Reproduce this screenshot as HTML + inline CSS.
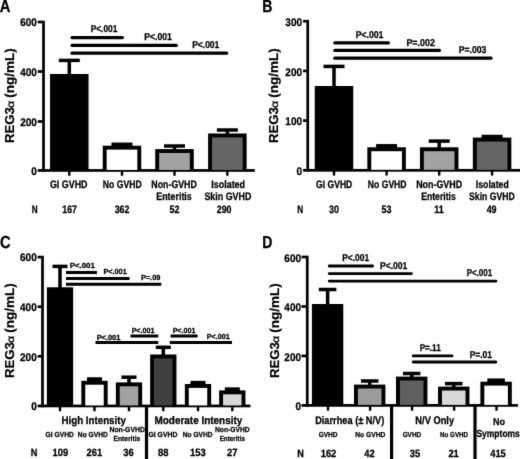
<!DOCTYPE html>
<html lang="en">
<head>
<meta charset="utf-8">
<title>REG3α figure</title>
<style>
html,body{margin:0;padding:0;background:#fff;}
body{width:520px;height:459px;overflow:hidden;}
svg{display:block;}
svg text{font-family:'Liberation Sans', 'DejaVu Sans', sans-serif;text-rendering:geometricPrecision;}
</style>
</head>
<body>
<svg width="520" height="459" viewBox="0 0 520 459">
<defs><filter id="soft" color-interpolation-filters="sRGB" x="0" y="0" width="520" height="459" filterUnits="userSpaceOnUse"><feConvolveMatrix order="3" kernelMatrix="0.012 0.07 0.012 0.07 0.672 0.07 0.012 0.07 0.012" edgeMode="duplicate" preserveAlpha="true"/></filter></defs>
<rect x="0" y="0" width="520" height="459" fill="#fff"/>
<g filter="url(#soft)">
<rect x="0" y="0" width="520" height="459" fill="#fff"/>
<!-- Panel A -->
<text x="-0.30" y="12.40" font-size="17.4" font-weight="bold" fill="#000" stroke="#000" stroke-width="0.28" textLength="10.70" lengthAdjust="spacingAndGlyphs">A</text>
<g transform="translate(13.70,142.20) rotate(-90)"><text x="-0.85" y="0" font-weight="bold" font-size="13" stroke="#000" stroke-width="0.2" lengthAdjust="spacingAndGlyphs" textLength="35.9">REG3</text><text transform="translate(34.5,0) scale(1.17,1)" x="0" y="0" font-weight="normal" stroke="#000" stroke-width="0.3" font-family="'DejaVu Sans', 'Liberation Sans', sans-serif" font-size="10.2">α</text><text x="44.5" y="0" font-weight="bold" font-size="13" stroke="#000" stroke-width="0.2" lengthAdjust="spacingAndGlyphs" textLength="49.5">(ng/mL)</text></g>
<rect x="42.15" y="20.65" width="2.70" height="151.15" fill="#000"/>
<rect x="42.15" y="169.10" width="212.65" height="2.70" fill="#000"/>
<rect x="37.75" y="20.65" width="4.60" height="2.70" fill="#000"/>
<text x="20.25" y="26.30" font-size="11" font-weight="bold" fill="#000" stroke="#000" stroke-width="0.28" textLength="16.65" lengthAdjust="spacingAndGlyphs">600</text>
<rect x="37.75" y="70.15" width="4.60" height="2.70" fill="#000"/>
<text x="20.25" y="76.10" font-size="11" font-weight="bold" fill="#000" stroke="#000" stroke-width="0.28" textLength="16.65" lengthAdjust="spacingAndGlyphs">400</text>
<rect x="37.75" y="120.15" width="4.60" height="2.70" fill="#000"/>
<text x="20.25" y="126.00" font-size="11" font-weight="bold" fill="#000" stroke="#000" stroke-width="0.28" textLength="16.65" lengthAdjust="spacingAndGlyphs">200</text>
<rect x="37.75" y="169.10" width="4.60" height="2.70" fill="#000"/>
<text x="31.35" y="175.00" font-size="11" font-weight="bold" fill="#000" stroke="#000" stroke-width="0.28" textLength="5.55" lengthAdjust="spacingAndGlyphs">0</text>
<rect x="68.10" y="170.45" width="2.40" height="5.30" fill="#000"/>
<rect x="120.80" y="170.45" width="2.40" height="5.30" fill="#000"/>
<rect x="173.30" y="170.45" width="2.40" height="5.30" fill="#000"/>
<rect x="226.15" y="170.45" width="2.40" height="5.30" fill="#000"/>
<rect x="50.05" y="74.00" width="38.50" height="96.45" fill="#000"/>
<rect x="67.55" y="60.40" width="3.50" height="14.60" fill="#000"/>
<rect x="58.80" y="58.65" width="21.00" height="3.50" fill="#000"/>
<rect x="102.75" y="145.70" width="38.50" height="24.75" fill="#000"/>
<rect x="106.65" y="149.60" width="30.70" height="20.35" fill="#fff"/>
<rect x="120.25" y="144.30" width="3.50" height="2.40" fill="#000"/>
<rect x="111.50" y="142.55" width="21.00" height="3.75" fill="#000"/>
<rect x="155.25" y="149.10" width="38.50" height="21.35" fill="#000"/>
<rect x="159.15" y="153.00" width="30.70" height="16.95" fill="#a2a2a2"/>
<rect x="172.75" y="146.00" width="3.50" height="4.10" fill="#000"/>
<rect x="164.00" y="144.25" width="21.00" height="3.50" fill="#000"/>
<rect x="208.10" y="133.50" width="38.50" height="36.95" fill="#000"/>
<rect x="212.00" y="137.40" width="30.70" height="32.55" fill="#656565"/>
<rect x="225.60" y="130.00" width="3.50" height="4.50" fill="#000"/>
<rect x="216.85" y="128.25" width="21.00" height="3.50" fill="#000"/>
<line x1="72.00" y1="37.60" x2="122.40" y2="37.60" stroke="#000" stroke-width="3.2" stroke-linecap="round"/>
<line x1="72.00" y1="45.40" x2="176.40" y2="45.40" stroke="#000" stroke-width="3.2" stroke-linecap="round"/>
<line x1="72.00" y1="53.20" x2="226.70" y2="53.20" stroke="#000" stroke-width="3.2" stroke-linecap="round"/>
<text x="90.65" y="32.20" font-size="10" font-weight="bold" fill="#000" stroke="#000" stroke-width="0.28" textLength="26.70" lengthAdjust="spacingAndGlyphs">P&lt;.001</text>
<text x="144.15" y="40.00" font-size="10" font-weight="bold" fill="#000" stroke="#000" stroke-width="0.28" textLength="27.70" lengthAdjust="spacingAndGlyphs">P&lt;.001</text>
<text x="192.15" y="48.20" font-size="10" font-weight="bold" fill="#000" stroke="#000" stroke-width="0.28" textLength="27.20" lengthAdjust="spacingAndGlyphs">P&lt;.001</text>
<text x="49.95" y="188.10" font-size="10.8" font-weight="bold" fill="#000" stroke="#000" stroke-width="0.28" textLength="37.60" lengthAdjust="spacingAndGlyphs">GI GVHD</text>
<text x="102.85" y="188.10" font-size="10.8" font-weight="bold" fill="#000" stroke="#000" stroke-width="0.28" textLength="38.90" lengthAdjust="spacingAndGlyphs">No GVHD</text>
<text x="151.35" y="188.10" font-size="10.8" font-weight="bold" fill="#000" stroke="#000" stroke-width="0.28" textLength="45.50" lengthAdjust="spacingAndGlyphs">Non-GVHD</text>
<text x="156.25" y="200.30" font-size="10.8" font-weight="bold" fill="#000" stroke="#000" stroke-width="0.28" textLength="35.50" lengthAdjust="spacingAndGlyphs">Enteritis</text>
<text x="211.25" y="188.10" font-size="10.8" font-weight="bold" fill="#000" stroke="#000" stroke-width="0.28" textLength="33.80" lengthAdjust="spacingAndGlyphs">Isolated</text>
<text x="204.45" y="200.30" font-size="10.8" font-weight="bold" fill="#000" stroke="#000" stroke-width="0.28" textLength="46.90" lengthAdjust="spacingAndGlyphs">Skin GVHD</text>
<text x="31.80" y="212.90" font-size="10.8" font-weight="bold" fill="#000" stroke="#000" stroke-width="0.28" textLength="5.90" lengthAdjust="spacingAndGlyphs">N</text>
<text x="62.25" y="212.90" font-size="10.8" font-weight="bold" fill="#000" stroke="#000" stroke-width="0.28" textLength="14.70" lengthAdjust="spacingAndGlyphs">167</text>
<text x="114.65" y="212.90" font-size="10.8" font-weight="bold" fill="#000" stroke="#000" stroke-width="0.28" textLength="14.70" lengthAdjust="spacingAndGlyphs">362</text>
<text x="169.55" y="212.90" font-size="10.8" font-weight="bold" fill="#000" stroke="#000" stroke-width="0.28" textLength="9.90" lengthAdjust="spacingAndGlyphs">52</text>
<text x="216.75" y="212.90" font-size="10.8" font-weight="bold" fill="#000" stroke="#000" stroke-width="0.28" textLength="14.70" lengthAdjust="spacingAndGlyphs">290</text>
<!-- Panel B -->
<text x="262.30" y="12.40" font-size="17.4" font-weight="bold" fill="#000" stroke="#000" stroke-width="0.28" textLength="10.20" lengthAdjust="spacingAndGlyphs">B</text>
<g transform="translate(278.20,142.20) rotate(-90)"><text x="-0.85" y="0" font-weight="bold" font-size="13" stroke="#000" stroke-width="0.2" lengthAdjust="spacingAndGlyphs" textLength="35.9">REG3</text><text transform="translate(34.5,0) scale(1.17,1)" x="0" y="0" font-weight="normal" stroke="#000" stroke-width="0.3" font-family="'DejaVu Sans', 'Liberation Sans', sans-serif" font-size="10.2">α</text><text x="44.5" y="0" font-weight="bold" font-size="13" stroke="#000" stroke-width="0.2" lengthAdjust="spacingAndGlyphs" textLength="49.5">(ng/mL)</text></g>
<rect x="306.40" y="19.85" width="2.70" height="151.80" fill="#000"/>
<rect x="306.40" y="168.95" width="213.60" height="2.70" fill="#000"/>
<rect x="303.10" y="19.85" width="3.50" height="2.70" fill="#000"/>
<text x="285.35" y="26.30" font-size="11" font-weight="bold" fill="#000" stroke="#000" stroke-width="0.28" textLength="16.65" lengthAdjust="spacingAndGlyphs">300</text>
<rect x="303.10" y="69.55" width="3.50" height="2.70" fill="#000"/>
<text x="285.35" y="75.70" font-size="11" font-weight="bold" fill="#000" stroke="#000" stroke-width="0.28" textLength="16.65" lengthAdjust="spacingAndGlyphs">200</text>
<rect x="303.10" y="119.25" width="3.50" height="2.70" fill="#000"/>
<text x="285.35" y="125.10" font-size="11" font-weight="bold" fill="#000" stroke="#000" stroke-width="0.28" textLength="16.65" lengthAdjust="spacingAndGlyphs">100</text>
<rect x="303.10" y="168.95" width="3.50" height="2.70" fill="#000"/>
<text x="296.45" y="174.50" font-size="11" font-weight="bold" fill="#000" stroke="#000" stroke-width="0.28" textLength="5.55" lengthAdjust="spacingAndGlyphs">0</text>
<rect x="332.80" y="170.30" width="2.40" height="5.30" fill="#000"/>
<rect x="385.40" y="170.30" width="2.40" height="5.30" fill="#000"/>
<rect x="438.00" y="170.30" width="2.40" height="5.30" fill="#000"/>
<rect x="490.90" y="170.30" width="2.40" height="5.30" fill="#000"/>
<rect x="314.75" y="86.00" width="38.50" height="84.30" fill="#000"/>
<rect x="332.25" y="66.40" width="3.50" height="20.60" fill="#000"/>
<rect x="323.50" y="64.65" width="21.00" height="3.50" fill="#000"/>
<rect x="367.35" y="147.30" width="38.50" height="23.00" fill="#000"/>
<rect x="371.25" y="151.20" width="30.70" height="18.60" fill="#fff"/>
<rect x="384.85" y="145.80" width="3.50" height="2.50" fill="#000"/>
<rect x="376.10" y="144.05" width="21.00" height="3.85" fill="#000"/>
<rect x="419.95" y="147.30" width="38.50" height="23.00" fill="#000"/>
<rect x="423.85" y="151.20" width="30.70" height="18.60" fill="#a2a2a2"/>
<rect x="437.45" y="141.10" width="3.50" height="7.20" fill="#000"/>
<rect x="428.70" y="139.35" width="21.00" height="3.50" fill="#000"/>
<rect x="472.85" y="137.60" width="38.50" height="32.70" fill="#000"/>
<rect x="476.75" y="141.50" width="30.70" height="28.30" fill="#656565"/>
<rect x="490.35" y="136.50" width="3.50" height="2.10" fill="#000"/>
<rect x="481.60" y="134.75" width="21.00" height="3.45" fill="#000"/>
<line x1="334.80" y1="42.90" x2="388.40" y2="42.90" stroke="#000" stroke-width="3.2" stroke-linecap="round"/>
<line x1="334.80" y1="50.40" x2="439.40" y2="50.40" stroke="#000" stroke-width="3.2" stroke-linecap="round"/>
<line x1="334.80" y1="58.20" x2="491.00" y2="58.20" stroke="#000" stroke-width="3.2" stroke-linecap="round"/>
<text x="355.65" y="38.00" font-size="10" font-weight="bold" fill="#000" stroke="#000" stroke-width="0.28" textLength="27.70" lengthAdjust="spacingAndGlyphs">P&lt;.001</text>
<text x="406.45" y="45.80" font-size="10" font-weight="bold" fill="#000" stroke="#000" stroke-width="0.28" textLength="28.40" lengthAdjust="spacingAndGlyphs">P=.002</text>
<text x="458.65" y="53.40" font-size="10" font-weight="bold" fill="#000" stroke="#000" stroke-width="0.28" textLength="27.70" lengthAdjust="spacingAndGlyphs">P=.003</text>
<text x="315.95" y="188.10" font-size="10.8" font-weight="bold" fill="#000" stroke="#000" stroke-width="0.28" textLength="36.40" lengthAdjust="spacingAndGlyphs">GI GVHD</text>
<text x="367.85" y="188.10" font-size="10.8" font-weight="bold" fill="#000" stroke="#000" stroke-width="0.28" textLength="38.70" lengthAdjust="spacingAndGlyphs">No GVHD</text>
<text x="416.15" y="188.10" font-size="10.8" font-weight="bold" fill="#000" stroke="#000" stroke-width="0.28" textLength="46.00" lengthAdjust="spacingAndGlyphs">Non-GVHD</text>
<text x="421.15" y="200.30" font-size="10.8" font-weight="bold" fill="#000" stroke="#000" stroke-width="0.28" textLength="34.70" lengthAdjust="spacingAndGlyphs">Enteritis</text>
<text x="475.85" y="188.10" font-size="10.8" font-weight="bold" fill="#000" stroke="#000" stroke-width="0.28" textLength="32.90" lengthAdjust="spacingAndGlyphs">Isolated</text>
<text x="469.05" y="200.30" font-size="10.8" font-weight="bold" fill="#000" stroke="#000" stroke-width="0.28" textLength="45.80" lengthAdjust="spacingAndGlyphs">Skin GVHD</text>
<text x="297.20" y="212.90" font-size="10.8" font-weight="bold" fill="#000" stroke="#000" stroke-width="0.28" textLength="5.90" lengthAdjust="spacingAndGlyphs">N</text>
<text x="329.05" y="212.90" font-size="10.8" font-weight="bold" fill="#000" stroke="#000" stroke-width="0.28" textLength="9.90" lengthAdjust="spacingAndGlyphs">30</text>
<text x="381.45" y="212.90" font-size="10.8" font-weight="bold" fill="#000" stroke="#000" stroke-width="0.28" textLength="9.90" lengthAdjust="spacingAndGlyphs">53</text>
<text x="434.30" y="212.90" font-size="10.8" font-weight="bold" fill="#000" stroke="#000" stroke-width="0.28" textLength="9.40" lengthAdjust="spacingAndGlyphs">11</text>
<text x="486.65" y="212.90" font-size="10.8" font-weight="bold" fill="#000" stroke="#000" stroke-width="0.28" textLength="9.90" lengthAdjust="spacingAndGlyphs">49</text>
<!-- Panel C -->
<text x="0.00" y="248.10" font-size="17.4" font-weight="bold" fill="#000" stroke="#000" stroke-width="0.28" textLength="10.60" lengthAdjust="spacingAndGlyphs">C</text>
<g transform="translate(13.70,377.20) rotate(-90)"><text x="-0.85" y="0" font-weight="bold" font-size="13" stroke="#000" stroke-width="0.2" lengthAdjust="spacingAndGlyphs" textLength="35.9">REG3</text><text transform="translate(34.5,0) scale(1.17,1)" x="0" y="0" font-weight="normal" stroke="#000" stroke-width="0.3" font-family="'DejaVu Sans', 'Liberation Sans', sans-serif" font-size="10.2">α</text><text x="44.5" y="0" font-weight="bold" font-size="13" stroke="#000" stroke-width="0.2" lengthAdjust="spacingAndGlyphs" textLength="49.5">(ng/mL)</text></g>
<rect x="41.15" y="255.75" width="2.70" height="151.55" fill="#000"/>
<rect x="41.15" y="404.60" width="209.35" height="2.70" fill="#000"/>
<rect x="37.65" y="255.75" width="3.70" height="2.70" fill="#000"/>
<text x="20.05" y="261.40" font-size="11" font-weight="bold" fill="#000" stroke="#000" stroke-width="0.28" textLength="16.65" lengthAdjust="spacingAndGlyphs">600</text>
<rect x="37.65" y="305.37" width="3.70" height="2.70" fill="#000"/>
<text x="20.05" y="311.02" font-size="11" font-weight="bold" fill="#000" stroke="#000" stroke-width="0.28" textLength="16.65" lengthAdjust="spacingAndGlyphs">400</text>
<rect x="37.65" y="354.98" width="3.70" height="2.70" fill="#000"/>
<text x="20.05" y="360.63" font-size="11" font-weight="bold" fill="#000" stroke="#000" stroke-width="0.28" textLength="16.65" lengthAdjust="spacingAndGlyphs">200</text>
<rect x="37.65" y="404.60" width="3.70" height="2.70" fill="#000"/>
<text x="31.15" y="410.25" font-size="11" font-weight="bold" fill="#000" stroke="#000" stroke-width="0.28" textLength="5.55" lengthAdjust="spacingAndGlyphs">0</text>
<rect x="58.80" y="405.95" width="2.40" height="5.30" fill="#000"/>
<rect x="93.30" y="405.95" width="2.40" height="5.30" fill="#000"/>
<rect x="127.80" y="405.95" width="2.40" height="5.30" fill="#000"/>
<rect x="162.10" y="405.95" width="2.40" height="5.30" fill="#000"/>
<rect x="196.80" y="405.95" width="2.40" height="5.30" fill="#000"/>
<rect x="231.10" y="405.95" width="2.40" height="5.30" fill="#000"/>
<rect x="46.85" y="287.30" width="26.30" height="118.65" fill="#000"/>
<rect x="58.25" y="266.40" width="3.50" height="21.90" fill="#000"/>
<rect x="52.50" y="264.65" width="15.00" height="3.50" fill="#000"/>
<rect x="81.35" y="380.80" width="26.30" height="25.15" fill="#000"/>
<rect x="85.25" y="384.70" width="18.50" height="20.75" fill="#fff"/>
<rect x="92.75" y="379.00" width="3.50" height="2.80" fill="#000"/>
<rect x="87.00" y="377.25" width="15.00" height="4.15" fill="#000"/>
<rect x="115.85" y="382.40" width="26.30" height="23.55" fill="#000"/>
<rect x="119.75" y="386.30" width="18.50" height="19.15" fill="#a2a2a2"/>
<rect x="127.25" y="377.20" width="3.50" height="6.20" fill="#000"/>
<rect x="121.50" y="375.45" width="15.00" height="3.50" fill="#000"/>
<rect x="150.15" y="354.50" width="26.30" height="51.45" fill="#000"/>
<rect x="154.05" y="358.40" width="18.50" height="47.05" fill="#404040"/>
<rect x="161.55" y="347.30" width="3.50" height="8.20" fill="#000"/>
<rect x="155.80" y="345.55" width="15.00" height="3.50" fill="#000"/>
<rect x="184.85" y="384.00" width="26.30" height="21.95" fill="#000"/>
<rect x="188.75" y="387.90" width="18.50" height="17.55" fill="#fff"/>
<rect x="196.25" y="382.60" width="3.50" height="2.40" fill="#000"/>
<rect x="190.50" y="380.85" width="15.00" height="3.75" fill="#000"/>
<rect x="219.15" y="390.40" width="26.30" height="15.55" fill="#000"/>
<rect x="223.05" y="394.30" width="18.50" height="11.15" fill="#d8d8d8"/>
<rect x="230.55" y="389.10" width="3.50" height="2.30" fill="#000"/>
<rect x="224.80" y="387.35" width="15.00" height="3.65" fill="#000"/>
<line x1="66.00" y1="272.50" x2="96.90" y2="272.50" stroke="#000" stroke-width="3.1" stroke-linecap="butt"/>
<line x1="66.00" y1="278.50" x2="129.60" y2="278.50" stroke="#000" stroke-width="3.1" stroke-linecap="butt"/>
<line x1="66.00" y1="284.30" x2="161.30" y2="284.30" stroke="#000" stroke-width="3.1" stroke-linecap="butt"/>
<text x="69.65" y="267.60" font-size="7.4" font-weight="bold" fill="#000" stroke="#000" stroke-width="0.28" textLength="25.20" lengthAdjust="spacingAndGlyphs">P&lt;.001</text>
<text x="103.45" y="273.80" font-size="7.4" font-weight="bold" fill="#000" stroke="#000" stroke-width="0.28" textLength="23.30" lengthAdjust="spacingAndGlyphs">P&lt;.001</text>
<text x="140.95" y="280.00" font-size="7.4" font-weight="bold" fill="#000" stroke="#000" stroke-width="0.28" textLength="19.40" lengthAdjust="spacingAndGlyphs">P=.09</text>
<line x1="95.50" y1="342.40" x2="158.30" y2="342.40" stroke="#000" stroke-width="3" stroke-linecap="butt"/>
<line x1="169.80" y1="342.40" x2="232.00" y2="342.40" stroke="#000" stroke-width="3" stroke-linecap="butt"/>
<line x1="130.50" y1="336.00" x2="158.30" y2="336.00" stroke="#000" stroke-width="3" stroke-linecap="butt"/>
<line x1="170.60" y1="336.00" x2="197.60" y2="336.00" stroke="#000" stroke-width="3" stroke-linecap="butt"/>
<text x="96.65" y="339.50" font-size="7.4" font-weight="bold" fill="#000" stroke="#000" stroke-width="0.28" textLength="23.70" lengthAdjust="spacingAndGlyphs">P&lt;.001</text>
<text x="131.65" y="332.60" font-size="7.4" font-weight="bold" fill="#000" stroke="#000" stroke-width="0.28" textLength="22.70" lengthAdjust="spacingAndGlyphs">P&lt;.001</text>
<text x="172.65" y="332.60" font-size="7.4" font-weight="bold" fill="#000" stroke="#000" stroke-width="0.28" textLength="22.70" lengthAdjust="spacingAndGlyphs">P&lt;.001</text>
<text x="206.65" y="339.00" font-size="7.4" font-weight="bold" fill="#000" stroke="#000" stroke-width="0.28" textLength="23.20" lengthAdjust="spacingAndGlyphs">P&lt;.001</text>
<line x1="146.50" y1="405.95" x2="146.50" y2="459.00" stroke="#000" stroke-width="3.2"/>
<text x="61.45" y="423.90" font-size="11" font-weight="bold" fill="#000" stroke="#000" stroke-width="0.28" textLength="64.50" lengthAdjust="spacingAndGlyphs">High Intensity</text>
<text x="154.45" y="423.90" font-size="11" font-weight="bold" fill="#000" stroke="#000" stroke-width="0.28" textLength="87.90" lengthAdjust="spacingAndGlyphs">Moderate Intensity</text>
<text x="45.45" y="437.00" font-size="7.3" font-weight="bold" fill="#000" stroke="#000" stroke-width="0.25" textLength="28.50" lengthAdjust="spacingAndGlyphs">GI GVHD</text>
<text x="77.85" y="437.00" font-size="7.3" font-weight="bold" fill="#000" stroke="#000" stroke-width="0.25" textLength="30.10" lengthAdjust="spacingAndGlyphs">No GVHD</text>
<text x="109.45" y="432.20" font-size="7.3" font-weight="bold" fill="#000" stroke="#000" stroke-width="0.25" textLength="35.50" lengthAdjust="spacingAndGlyphs">Non-GVHD</text>
<text x="113.45" y="440.80" font-size="7.3" font-weight="bold" fill="#000" stroke="#000" stroke-width="0.25" textLength="26.90" lengthAdjust="spacingAndGlyphs">Enteritis</text>
<text x="148.45" y="437.00" font-size="7.3" font-weight="bold" fill="#000" stroke="#000" stroke-width="0.25" textLength="28.90" lengthAdjust="spacingAndGlyphs">GI GVHD</text>
<text x="182.65" y="437.00" font-size="7.3" font-weight="bold" fill="#000" stroke="#000" stroke-width="0.25" textLength="30.00" lengthAdjust="spacingAndGlyphs">No GVHD</text>
<text x="215.05" y="432.20" font-size="7.3" font-weight="bold" fill="#000" stroke="#000" stroke-width="0.25" textLength="34.50" lengthAdjust="spacingAndGlyphs">Non-GVHD</text>
<text x="219.65" y="440.80" font-size="7.3" font-weight="bold" fill="#000" stroke="#000" stroke-width="0.25" textLength="25.30" lengthAdjust="spacingAndGlyphs">Enteritis</text>
<text x="30.80" y="456.10" font-size="10.5" font-weight="bold" fill="#000" stroke="#000" stroke-width="0.28" textLength="6.60" lengthAdjust="spacingAndGlyphs">N</text>
<text x="52.60" y="456.10" font-size="10.5" font-weight="bold" fill="#000" stroke="#000" stroke-width="0.28" textLength="15.60" lengthAdjust="spacingAndGlyphs">109</text>
<text x="86.60" y="456.10" font-size="10.5" font-weight="bold" fill="#000" stroke="#000" stroke-width="0.28" textLength="15.60" lengthAdjust="spacingAndGlyphs">261</text>
<text x="123.30" y="456.10" font-size="10.5" font-weight="bold" fill="#000" stroke="#000" stroke-width="0.28" textLength="10.40" lengthAdjust="spacingAndGlyphs">36</text>
<text x="158.00" y="456.10" font-size="10.5" font-weight="bold" fill="#000" stroke="#000" stroke-width="0.28" textLength="10.40" lengthAdjust="spacingAndGlyphs">88</text>
<text x="190.00" y="456.10" font-size="10.5" font-weight="bold" fill="#000" stroke="#000" stroke-width="0.28" textLength="15.60" lengthAdjust="spacingAndGlyphs">153</text>
<text x="227.10" y="456.10" font-size="10.5" font-weight="bold" fill="#000" stroke="#000" stroke-width="0.28" textLength="10.40" lengthAdjust="spacingAndGlyphs">27</text>
<!-- Panel D -->
<text x="262.30" y="247.90" font-size="17.4" font-weight="bold" fill="#000" stroke="#000" stroke-width="0.28" textLength="10.10" lengthAdjust="spacingAndGlyphs">D</text>
<g transform="translate(278.60,377.20) rotate(-90)"><text x="-0.85" y="0" font-weight="bold" font-size="13" stroke="#000" stroke-width="0.2" lengthAdjust="spacingAndGlyphs" textLength="35.9">REG3</text><text transform="translate(34.5,0) scale(1.17,1)" x="0" y="0" font-weight="normal" stroke="#000" stroke-width="0.3" font-family="'DejaVu Sans', 'Liberation Sans', sans-serif" font-size="10.2">α</text><text x="44.5" y="0" font-weight="bold" font-size="13" stroke="#000" stroke-width="0.2" lengthAdjust="spacingAndGlyphs" textLength="49.5">(ng/mL)</text></g>
<rect x="305.90" y="255.65" width="2.70" height="151.10" fill="#000"/>
<rect x="305.90" y="404.05" width="212.10" height="2.70" fill="#000"/>
<rect x="301.50" y="255.65" width="4.60" height="2.70" fill="#000"/>
<text x="284.35" y="261.80" font-size="11" font-weight="bold" fill="#000" stroke="#000" stroke-width="0.28" textLength="16.65" lengthAdjust="spacingAndGlyphs">600</text>
<rect x="301.50" y="305.12" width="4.60" height="2.70" fill="#000"/>
<text x="284.35" y="311.35" font-size="11" font-weight="bold" fill="#000" stroke="#000" stroke-width="0.28" textLength="16.65" lengthAdjust="spacingAndGlyphs">400</text>
<rect x="301.50" y="354.58" width="4.60" height="2.70" fill="#000"/>
<text x="284.35" y="360.90" font-size="11" font-weight="bold" fill="#000" stroke="#000" stroke-width="0.28" textLength="16.65" lengthAdjust="spacingAndGlyphs">200</text>
<rect x="301.50" y="404.05" width="4.60" height="2.70" fill="#000"/>
<text x="295.45" y="410.40" font-size="11" font-weight="bold" fill="#000" stroke="#000" stroke-width="0.28" textLength="5.55" lengthAdjust="spacingAndGlyphs">0</text>
<rect x="326.80" y="405.40" width="2.40" height="5.30" fill="#000"/>
<rect x="368.90" y="405.40" width="2.40" height="5.30" fill="#000"/>
<rect x="410.90" y="405.40" width="2.40" height="5.30" fill="#000"/>
<rect x="452.95" y="405.40" width="2.40" height="5.30" fill="#000"/>
<rect x="495.30" y="405.40" width="2.40" height="5.30" fill="#000"/>
<rect x="311.90" y="304.00" width="31.40" height="101.40" fill="#000"/>
<rect x="325.85" y="289.50" width="3.50" height="15.50" fill="#000"/>
<rect x="318.85" y="287.75" width="17.50" height="3.50" fill="#000"/>
<rect x="354.00" y="384.60" width="31.40" height="20.80" fill="#000"/>
<rect x="357.90" y="388.50" width="23.60" height="16.40" fill="#9c9c9c"/>
<rect x="367.95" y="381.00" width="3.50" height="4.60" fill="#000"/>
<rect x="360.95" y="379.25" width="17.50" height="3.50" fill="#000"/>
<rect x="396.00" y="376.60" width="31.40" height="28.80" fill="#000"/>
<rect x="399.90" y="380.50" width="23.60" height="24.40" fill="#606060"/>
<rect x="409.95" y="373.50" width="3.50" height="4.10" fill="#000"/>
<rect x="402.95" y="371.75" width="17.50" height="3.50" fill="#000"/>
<rect x="438.05" y="386.60" width="31.40" height="18.80" fill="#000"/>
<rect x="441.95" y="390.50" width="23.60" height="14.40" fill="#d8d8d8"/>
<rect x="452.00" y="383.60" width="3.50" height="4.00" fill="#000"/>
<rect x="445.00" y="381.85" width="17.50" height="3.50" fill="#000"/>
<rect x="480.40" y="381.70" width="31.40" height="23.70" fill="#000"/>
<rect x="484.30" y="385.60" width="23.60" height="19.30" fill="#fff"/>
<rect x="494.35" y="380.20" width="3.50" height="2.50" fill="#000"/>
<rect x="487.35" y="378.45" width="17.50" height="3.85" fill="#000"/>
<line x1="329.25" y1="266.00" x2="372.55" y2="266.00" stroke="#000" stroke-width="2.9" stroke-linecap="round"/>
<line x1="329.25" y1="273.60" x2="411.35" y2="273.60" stroke="#000" stroke-width="2.9" stroke-linecap="round"/>
<line x1="329.25" y1="281.10" x2="495.95" y2="281.10" stroke="#000" stroke-width="2.9" stroke-linecap="round"/>
<text x="342.15" y="261.00" font-size="10" font-weight="bold" fill="#000" stroke="#000" stroke-width="0.28" textLength="27.00" lengthAdjust="spacingAndGlyphs">P&lt;.001</text>
<text x="379.95" y="269.00" font-size="10" font-weight="bold" fill="#000" stroke="#000" stroke-width="0.28" textLength="27.40" lengthAdjust="spacingAndGlyphs">P&lt;.001</text>
<text x="466.65" y="276.20" font-size="10" font-weight="bold" fill="#000" stroke="#000" stroke-width="0.28" textLength="25.50" lengthAdjust="spacingAndGlyphs">P&lt;.001</text>
<line x1="413.20" y1="355.90" x2="452.10" y2="355.90" stroke="#000" stroke-width="2.8" stroke-linecap="round"/>
<line x1="413.20" y1="362.00" x2="495.80" y2="362.00" stroke="#000" stroke-width="2.8" stroke-linecap="round"/>
<text x="419.65" y="351.00" font-size="10" font-weight="bold" fill="#000" stroke="#000" stroke-width="0.28" textLength="21.10" lengthAdjust="spacingAndGlyphs">P=.11</text>
<text x="469.65" y="357.80" font-size="10" font-weight="bold" fill="#000" stroke="#000" stroke-width="0.28" textLength="22.30" lengthAdjust="spacingAndGlyphs">P=.01</text>
<line x1="391.60" y1="405.40" x2="391.60" y2="459.00" stroke="#000" stroke-width="3.2"/>
<line x1="475.00" y1="405.40" x2="475.00" y2="459.00" stroke="#000" stroke-width="3.2"/>
<text x="315.15" y="424.40" font-size="11" font-weight="bold" fill="#000" stroke="#000" stroke-width="0.28" textLength="69.20" lengthAdjust="spacingAndGlyphs">Diarrhea (± N/V)</text>
<text x="415.35" y="424.40" font-size="11" font-weight="bold" fill="#000" stroke="#000" stroke-width="0.28" textLength="38.70" lengthAdjust="spacingAndGlyphs">N/V Only</text>
<text x="493.00" y="424.60" font-size="10.0" font-weight="bold" fill="#000" stroke="#000" stroke-width="0.28" textLength="12.00" lengthAdjust="spacingAndGlyphs">No</text>
<text x="476.45" y="436.50" font-size="10.3" font-weight="bold" fill="#000" stroke="#000" stroke-width="0.28" textLength="43.40" lengthAdjust="spacingAndGlyphs">Symptoms</text>
<text x="318.65" y="437.40" font-size="7.2" font-weight="bold" fill="#000" stroke="#000" stroke-width="0.25" textLength="18.90" lengthAdjust="spacingAndGlyphs">GVHD</text>
<text x="355.15" y="437.40" font-size="7.2" font-weight="bold" fill="#000" stroke="#000" stroke-width="0.25" textLength="30.20" lengthAdjust="spacingAndGlyphs">No GVHD</text>
<text x="402.65" y="437.40" font-size="7.2" font-weight="bold" fill="#000" stroke="#000" stroke-width="0.25" textLength="18.50" lengthAdjust="spacingAndGlyphs">GVHD</text>
<text x="440.05" y="437.40" font-size="7.2" font-weight="bold" fill="#000" stroke="#000" stroke-width="0.25" textLength="28.00" lengthAdjust="spacingAndGlyphs">No GVHD</text>
<text x="297.20" y="456.60" font-size="10.5" font-weight="bold" fill="#000" stroke="#000" stroke-width="0.28" textLength="6.60" lengthAdjust="spacingAndGlyphs">N</text>
<text x="320.70" y="456.60" font-size="10.5" font-weight="bold" fill="#000" stroke="#000" stroke-width="0.28" textLength="15.60" lengthAdjust="spacingAndGlyphs">162</text>
<text x="364.30" y="456.60" font-size="10.5" font-weight="bold" fill="#000" stroke="#000" stroke-width="0.28" textLength="10.40" lengthAdjust="spacingAndGlyphs">42</text>
<text x="409.80" y="456.60" font-size="10.5" font-weight="bold" fill="#000" stroke="#000" stroke-width="0.28" textLength="10.40" lengthAdjust="spacingAndGlyphs">35</text>
<text x="448.40" y="456.60" font-size="10.5" font-weight="bold" fill="#000" stroke="#000" stroke-width="0.28" textLength="10.40" lengthAdjust="spacingAndGlyphs">21</text>
<text x="490.20" y="456.60" font-size="10.5" font-weight="bold" fill="#000" stroke="#000" stroke-width="0.28" textLength="15.60" lengthAdjust="spacingAndGlyphs">415</text>
</g>
</svg>
</body>
</html>
